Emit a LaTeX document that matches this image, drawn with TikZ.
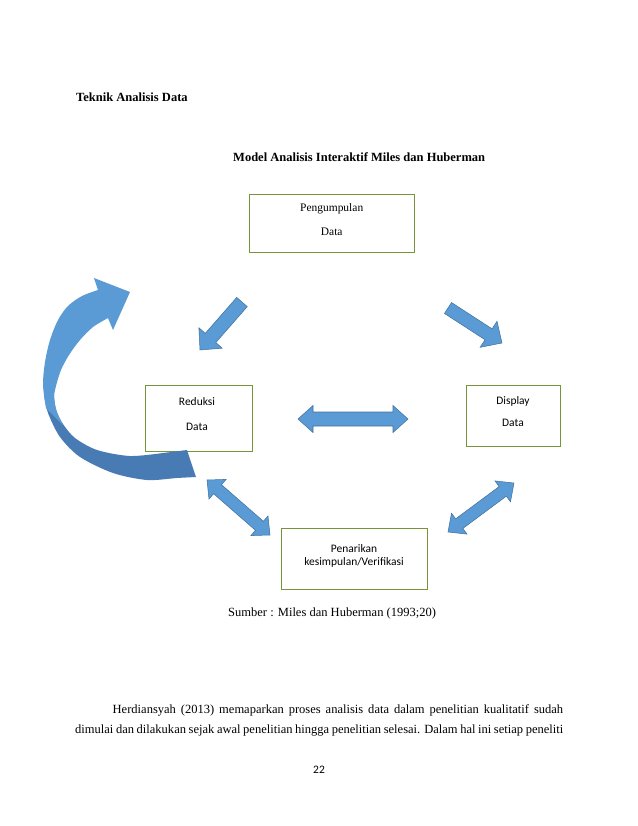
\documentclass[tikz,border=0pt]{standalone}
\usepackage{fontspec}
\setmainfont{Liberation Serif}
\newfontfamily\calibri{Carlito}
\definecolor{abl}{RGB}{91,155,213}
\definecolor{abd}{RGB}{65,113,156}
\definecolor{adk}{RGB}{72,123,180}
\definecolor{bgr}{RGB}{119,147,60}
\newcommand\onearrow[7]{%
  \pgfmathsetmacro\aang{atan2(-((#4)-(#2)),(#3)-(#1))}%
  \pgfmathsetmacro\alen{veclen((#3)-(#1),(#4)-(#2))}%
  \pgfmathsetmacro\abase{\alen-(#7)}%
  \draw[blk,shift={(#1,#2)},rotate=\aang] (0,-#5) -- (\abase,-#5) -- (\abase,-#6) -- (\alen,0) -- (\abase,#6) -- (\abase,#5) -- (0,#5) -- cycle;}
\newcommand\twoarrow[7]{%
  \pgfmathsetmacro\aang{atan2(-((#4)-(#2)),(#3)-(#1))}%
  \pgfmathsetmacro\alen{veclen((#3)-(#1),(#4)-(#2))}%
  \pgfmathsetmacro\abase{\alen-(#7)}%
  \draw[blk,shift={(#1,#2)},rotate=\aang] (0,0) -- (#7,-#6) -- (#7,-#5) -- (\abase,-#5) -- (\abase,-#6) -- (\alen,0) -- (\abase,#6) -- (\abase,#5) -- (#7,#5) -- (#7,#6) -- cycle;}
\begin{document}
\begin{tikzpicture}[x=0.9592pt,y=-0.9592pt,
  blk/.style={fill=abl,draw=abd,line width=0.5pt,line join=miter},
  box/.style={draw=bgr,line width=0.7pt,rectangle,inner sep=0pt},
  txt/.style={inner sep=0pt,anchor=base},
  ctxt/.style={inner sep=0pt,anchor=base,font=\calibri\fontsize{11}{13}\selectfont},
  ttxt/.style={inner sep=0pt,anchor=base,font=\fontsize{11}{13}\selectfont}]
\fill[white] (0,0) rectangle (638,826);
\useasboundingbox (0,0) rectangle (638,826);

\node[txt,anchor=base west,font=\bfseries\fontsize{12}{14}\selectfont] (t1) at (76,101) {Teknik Analisis Data};
\node[txt,anchor=base west,font=\bfseries\fontsize{12}{14}\selectfont] (t2) at (233,161) {Model Analisis Interaktif Miles dan Huberman};

% boxes
\node[box,minimum width=158.3pt,minimum height=55.3pt] (pd) at (331.8,223.2) {};
\node[ttxt] (pd1) at (331.7,211.7) {Pengumpulan};
\node[ttxt] (pd2) at (331.7,235) {Data};

\node[box,minimum width=103.3pt,minimum height=63.3pt] (rd) at (198.9,418) {};
\node[ctxt] (rd1) at (197,405) {Reduksi};
\node[ctxt] (rd2) at (197,430) {Data};

\node[box,minimum width=90.8pt,minimum height=57.8pt] (dd) at (513.4,415.9) {};
\node[ctxt] (dd1) at (513,404) {Display};
\node[ctxt] (dd2) at (513,426.7) {Data};

\node[box,minimum width=140.7pt,minimum height=58.5pt] (pk) at (354.4,558.8) {};
\node[ctxt] (pk1) at (354,552.7) {Penarikan};
\node[ctxt] (pk2) at (354,565) {kesimpulan/Verifikasi};

% block arrows
\onearrow{242}{302}{200}{350}{7}{15.5}{16}
\onearrow{448}{308}{502}{343}{6.5}{15.5}{16}
\twoarrow{298}{419}{408}{419}{7}{13.5}{15}
\twoarrow{207}{480}{270}{535}{6}{13}{14}
\twoarrow{448}{532}{514}{483}{6}{13}{14}

% curved arrow
\fill[adk] plot[smooth] coordinates {(44,395) (48,413) (60,437) (80,457) (113,473) (147,480) (177,478) (196,477)} -- (187,450) -- plot[smooth] coordinates {(163,453) (130,456) (97,450) (75,438) (63,424) (56,410) (54,395)} -- cycle;
\fill[abl] (130,292) -- (94,278) -- (98,290) -- plot[smooth] coordinates {(98,290) (82,296) (68,306) (58,320) (50,340) (45,362) (43,385) (46,408)} -- (63,425) -- plot[smooth] coordinates {(63,425) (57,412) (54,398) (56,386) (61,370) (69,355) (80,340) (93,327) (108,318)} -- (113,330) -- cycle;

\node[txt,anchor=base west,font=\fontsize{12}{14}\selectfont] (src) at (228,616) {Sumber : Miles dan Huberman (1993;20)};

\node[txt,anchor=base west,font=\fontsize{12}{14}\selectfont] (p1) at (112.5,713) {\makebox[432.1pt][s]{Herdiansyah (2013) memaparkan proses analisis data dalam penelitian kualitatif sudah}};
\node[txt,anchor=base west,font=\fontsize{12}{14}\selectfont] (p2) at (75,733) {\makebox[468.1pt][s]{dimulai dan dilakukan sejak awal penelitian hingga penelitian selesai. Dalam hal ini setiap peneliti}};

\node[ctxt] (pg) at (319,773) {22};
\end{tikzpicture}
\end{document}
